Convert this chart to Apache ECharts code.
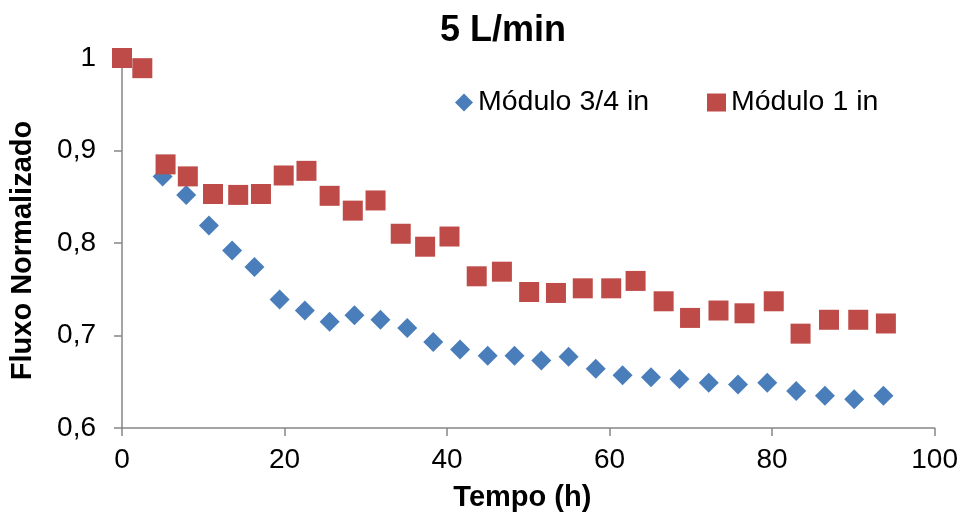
<!DOCTYPE html>
<html>
<head>
<meta charset="utf-8">
<script src="https://cdn.jsdelivr.net/npm/echarts@6/dist/echarts.min.js"></script>
<style>
html,body{margin:0;padding:0;background:#fff;}
#chart{width:961px;height:517px;}
</style>
</head>
<body>
<div id="chart"></div>
<script>
const titleText = '5 L/min';
const seriesNames = ['Módulo 3/4 in', 'Módulo 1 in'];
const xAxisName = 'Tempo (h)';
const yAxisName = 'Fluxo Normalizado';

const mod34Time = [5.0, 7.9, 10.7, 13.55, 16.3, 19.4, 22.5, 25.55, 28.6, 31.8, 35.1, 38.3, 41.6, 45.0, 48.3, 51.6, 54.95, 58.3, 61.6, 65.1, 68.6, 72.2, 75.8, 79.4, 82.96, 86.5, 90.1, 93.7];
const mod34Flux = [0.872, 0.852, 0.819, 0.792, 0.774, 0.739, 0.727, 0.715, 0.722, 0.717, 0.708, 0.693, 0.685, 0.678, 0.678, 0.673, 0.677, 0.664, 0.657, 0.655, 0.653, 0.649, 0.647, 0.649, 0.640, 0.635, 0.631, 0.635];

const mod1Time = [0, 2.5, 5.36, 8.1, 11.2, 14.3, 17.1, 19.9, 22.7, 25.55, 28.4, 31.2, 34.3, 37.3, 40.3, 43.65, 46.75, 50.1, 53.4, 56.7, 60.2, 63.2, 66.65, 69.9, 73.4, 76.6, 80.2, 83.5, 87.0, 90.6, 94.0];
const mod1Flux = [1.0, 0.989, 0.885, 0.872, 0.853, 0.852, 0.853, 0.873, 0.878, 0.851, 0.835, 0.846, 0.810, 0.796, 0.807, 0.764, 0.769, 0.747, 0.746, 0.751, 0.751, 0.759, 0.737, 0.719, 0.727, 0.724, 0.737, 0.702, 0.717, 0.717, 0.713];

const xMin = 0, xMax = 100, xStep = 20;
const yMin = 0.6, yMax = 1.0, yStep = 0.1;

const zip = (xs, ys) => xs.map((x, i) => [x, ys[i]]);
const FONT = 'Liberation Sans, Arial, sans-serif';
const axisColor = '#868686';

const chart = echarts.init(document.getElementById('chart'), null, {renderer: 'canvas'});
chart.setOption({
  animation: false,
  backgroundColor: '#ffffff',
  title: {
    text: titleText,
    left: 440,
    top: 13,
    padding: 0,
    textStyle: {fontFamily: FONT, fontSize: 36, fontWeight: 'bold', color: '#000'}
  },
  legend: [
    {
      data: [{name: seriesNames[0], icon: 'diamond'}],
      left: 455, top: 88, padding: 0,
      itemWidth: 18, itemHeight: 18,
      textStyle: {fontFamily: FONT, fontSize: 28.5, color: '#000'}
    },
    {
      data: [{name: seriesNames[1], icon: 'rect'}],
      left: 707, top: 88, padding: 0,
      itemWidth: 19, itemHeight: 18,
      textStyle: {fontFamily: FONT, fontSize: 28.5, color: '#000'}
    }
  ],
  grid: {left: 122, right: 26, top: 58, bottom: 88, containLabel: false},
  xAxis: {
    type: 'value', min: xMin, max: xMax, interval: xStep,
    name: xAxisName, nameLocation: 'middle', nameGap: 55,
    nameTextStyle: {fontFamily: FONT, fontSize: 29, fontWeight: 'bold', color: '#000', padding: [0, 12, 0, 0]},
    axisLine: {show: true, lineStyle: {color: axisColor, width: 1.5}},
    axisTick: {show: true, length: 8, lineStyle: {color: axisColor, width: 1.5}},
    axisLabel: {fontFamily: FONT, fontSize: 28, color: '#000', margin: 18},
    splitLine: {show: false}
  },
  yAxis: {
    type: 'value', min: yMin, max: yMax, interval: yStep,
    name: yAxisName, nameLocation: 'middle', nameGap: 85, nameRotate: 90,
    nameTextStyle: {fontFamily: FONT, fontSize: 29, fontWeight: 'bold', color: '#000', padding: [0, 15, 0, 0]},
    axisLine: {show: true, lineStyle: {color: axisColor, width: 1.5}},
    axisTick: {show: true, length: 8, lineStyle: {color: axisColor, width: 1.5}},
    axisLabel: {
      fontFamily: FONT, fontSize: 28, color: '#000', margin: 26,
      formatter: v => (Math.round(v * 10) / 10).toString().replace('.', ',')
    },
    splitLine: {show: false}
  },
  series: [
    {
      name: seriesNames[0], type: 'scatter', symbol: 'diamond', symbolSize: 20,
      itemStyle: {color: '#4A7EBB', opacity: 1},
      data: zip(mod34Time, mod34Flux), z: 2
    },
    {
      name: seriesNames[1], type: 'scatter', symbol: 'rect', symbolSize: 20,
      itemStyle: {color: '#BE4B48', opacity: 1},
      data: zip(mod1Time, mod1Flux), z: 3
    }
  ]
});
</script>
</body>
</html>
